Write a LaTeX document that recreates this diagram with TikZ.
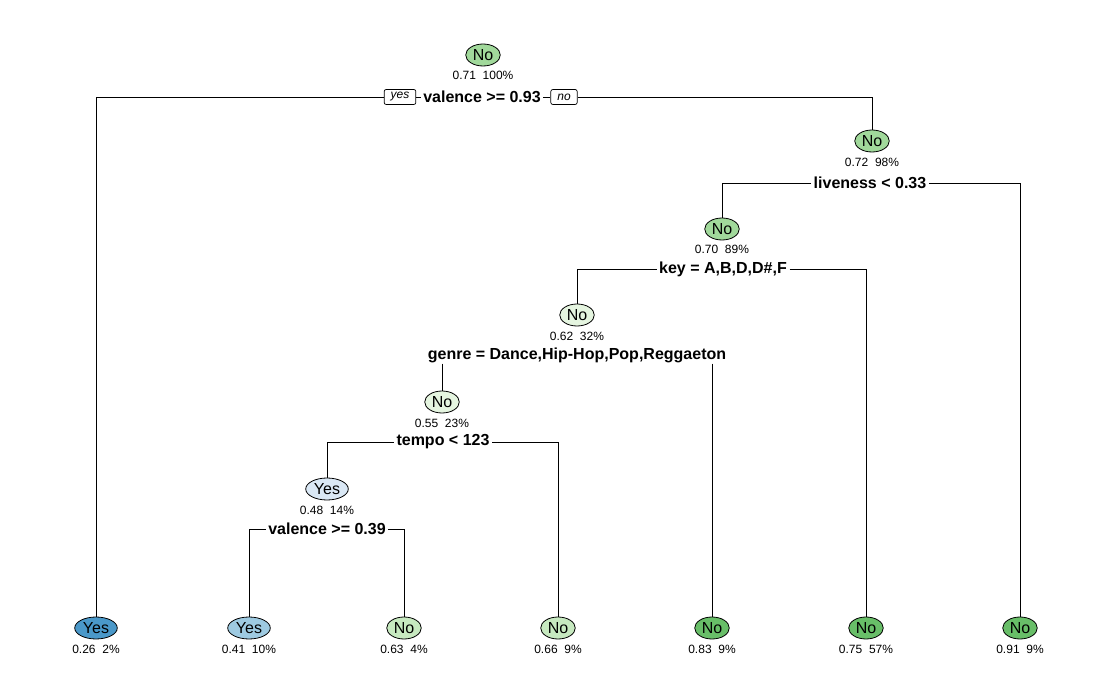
\documentclass[tikz,border=0pt]{standalone}
\usepackage{fontspec}
\setmainfont{Liberation Sans}
\usetikzlibrary{shapes.geometric}

\definecolor{blueA}{HTML}{4A98C9}
\definecolor{blueB}{HTML}{9ECAE1}
\definecolor{blueC}{HTML}{DAE8F5}
\definecolor{greenA}{HTML}{E5F5E0}
\definecolor{greenB}{HTML}{C7E9C0}
\definecolor{greenC}{HTML}{A1D99B}
\definecolor{greenD}{HTML}{68BE68}

\tikzset{
  leaf/.style={shape=ellipse, draw, line width=0.8pt, inner xsep=2pt, inner ysep=1pt,
    minimum height=22pt, font=\fontsize{16}{16}\selectfont},
  stat/.style={inner sep=1pt, font=\fontsize{12}{12}\selectfont},
  split/.style={inner xsep=2.5pt, inner ysep=1pt, font=\fontsize{16}{16}\selectfont\bfseries},
  tag/.style={draw, line width=0.7pt, rounded corners=2pt, inner xsep=6.5pt, inner ysep=0pt,
    minimum height=15pt, font=\fontsize{12}{12}\selectfont\itshape},
  edge/.style={line width=0.8pt}
}

\begin{document}
\begin{tikzpicture}[x=1pt,y=-1pt]
\useasboundingbox (0,0) rectangle (1117,700);

% inner nodes
\path (483,55) node (N1) [leaf, fill=greenC] {No};
\path (483,75) node (T1) [stat] {0.71~~100\%};
\path (482,97) node (S1) [split] {valence >= 0.93};
\path (400,97) node (yes) [tag] {yes};
\path (564,97) node (no) [tag] {no};

\path (872,141) node (N2) [leaf, fill=greenC] {No};
\path (872,162) node (T2) [stat] {0.72~~98\%};
\path (870,183) node (S2) [split] {liveness < 0.33};

\path (722,229) node (N3) [leaf, fill=greenC] {No};
\path (722,249) node (T3) [stat] {0.70~~89\%};
\path (723,269) node (S3) [split] {key = A,B,D,D\#,F};

\path (577,315) node (N4) [leaf, fill=greenA] {No};
\path (577,336) node (T4) [stat] {0.62~~32\%};
\path (577,355) node (S4) [split] {genre = Dance,Hip-Hop,Pop,Reggaeton};

\path (442,402) node (N5) [leaf, fill=greenA] {No};
\path (442,423) node (T5) [stat] {0.55~~23\%};
\path (443,442) node (S5) [split] {tempo < 123};

\path (327,489) node (N6) [leaf, fill=blueC] {Yes};
\path (327,510) node (T6) [stat] {0.48~~14\%};
\path (327,529) node (S6) [split] {valence >= 0.39};

% leaves
\path (96,628) node (L1) [leaf, fill=blueA] {Yes};
\path (96,649) node (U1) [stat] {0.26~~2\%};
\path (249,628) node (L2) [leaf, fill=blueB] {Yes};
\path (249,649) node (U2) [stat] {0.41~~10\%};
\path (404,628) node (L3) [leaf, fill=greenB] {No};
\path (404,649) node (U3) [stat] {0.63~~4\%};
\path (558,628) node (L4) [leaf, fill=greenB] {No};
\path (558,649) node (U4) [stat] {0.66~~9\%};
\path (712,628) node (L5) [leaf, fill=greenD] {No};
\path (712,649) node (U5) [stat] {0.83~~9\%};
\path (866,628) node (L6) [leaf, fill=greenD] {No};
\path (866,649) node (U6) [stat] {0.75~~57\%};
\path (1020,628) node (L7) [leaf, fill=greenD] {No};
\path (1020,649) node (U7) [stat] {0.91~~9\%};

% branches
\draw [edge] (S1) -- (yes);
\draw [edge] (yes) -| (L1);
\draw [edge] (S1) -- (no);
\draw [edge] (no) -| (N2);

\draw [edge] (S2) -| (N3);
\draw [edge] (S2) -| (L7);

\draw [edge] (S3) -| (N4);
\draw [edge] (S3) -| (L6);

\draw [edge] (S4.south -| N5) -- (N5);
\draw [edge] (S4.south -| L5) -- (L5);

\draw [edge] (S5) -| (N6);
\draw [edge] (S5) -| (L4);

\draw [edge] (S6) -| (L2);
\draw [edge] (S6) -| (L3);

\end{tikzpicture}
\end{document}
